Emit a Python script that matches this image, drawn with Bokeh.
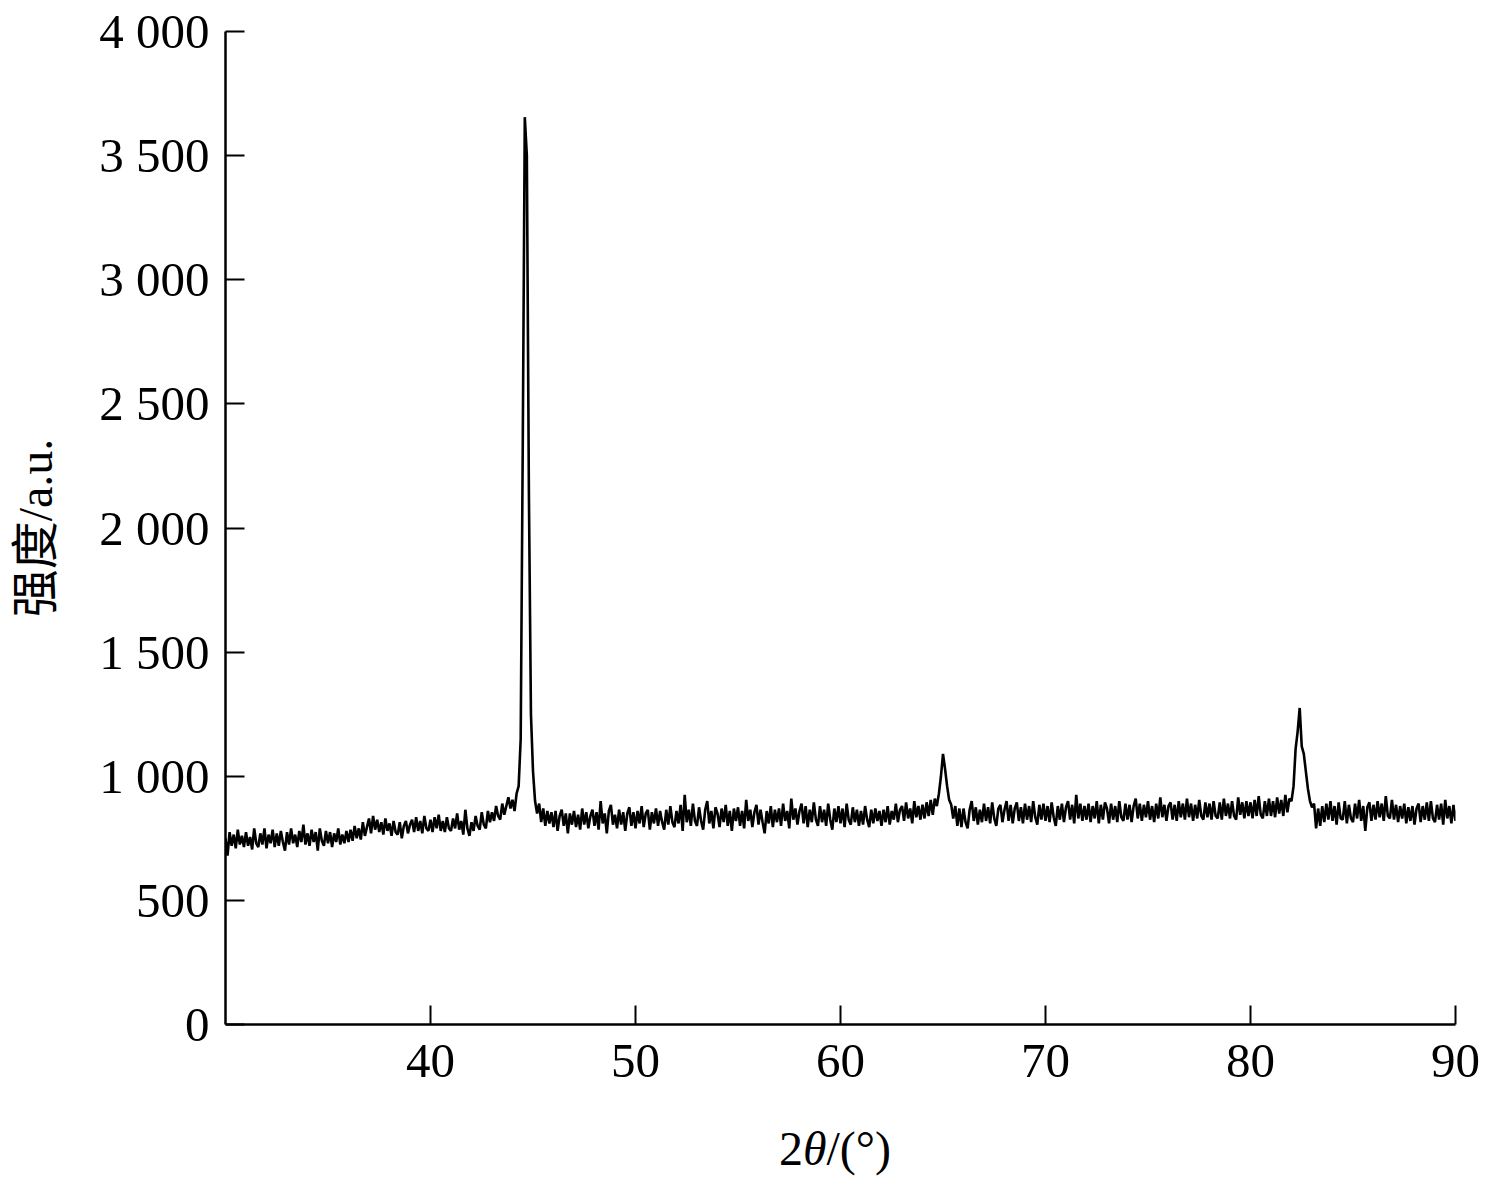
from bokeh.plotting import figure
from bokeh.models import Range1d, FixedTicker, Div
from bokeh.layouts import column
from bokeh.embed import file_html
from bokeh.resources import INLINE

# --- data, one row per degree, 0.1 deg steps ---
two_theta_start = 30.0
two_theta_step = 0.1
intensity_rows = [
    [750, 680, 775, 720, 765, 710, 785, 725, 760, 715],   # 30
    [775, 720, 755, 705, 790, 730, 715, 770, 725, 790],   # 31
    [710, 765, 730, 785, 715, 770, 720, 780, 735, 700],   # 32
    [775, 725, 790, 730, 765, 715, 780, 735, 805, 725],   # 33
    [770, 720, 785, 735, 775, 700, 790, 740, 720, 780],   # 34
    [730, 775, 715, 770, 735, 790, 725, 765, 730, 780],   # 35
    [735, 785, 740, 800, 750, 790, 745, 815, 760, 795],   # 36
    [830, 770, 840, 785, 825, 775, 815, 765, 830, 780],   # 37
    [810, 760, 820, 775, 765, 815, 750, 800, 820, 770],   # 38
    [805, 825, 775, 835, 780, 820, 770, 840, 790, 780],   # 39
    [825, 775, 835, 790, 845, 780, 820, 775, 835, 790],   # 40
    [780, 830, 790, 850, 785, 820, 765, 865, 790, 760],   # 41
    [815, 780, 840, 800, 785, 855, 805, 790, 860, 815],   # 42
    [855, 820, 880, 840, 825, 890, 845, 880, 915, 870],   # 43
    [905, 860, 930, 960, 1150, 2330, 3655, 3500, 2140, 1250],  # 44
    [1020, 900, 850, 890, 815, 870, 800, 860, 810, 855],  # 45
    [795, 860, 780, 840, 865, 800, 850, 770, 850, 805],   # 46
    [860, 795, 845, 785, 870, 805, 855, 790, 840, 865],   # 47
    [800, 855, 785, 900, 810, 850, 770, 860, 885, 805],   # 48
    [845, 790, 865, 805, 855, 780, 850, 875, 800, 855],   # 49
    [790, 860, 810, 880, 795, 850, 865, 785, 855, 810],   # 50
    [870, 800, 860, 815, 785, 865, 805, 880, 815, 795],   # 51
    [860, 810, 885, 780, 925, 815, 865, 800, 890, 820],   # 52
    [800, 875, 820, 785, 865, 900, 810, 860, 790, 875],   # 53
    [850, 795, 870, 815, 885, 800, 860, 780, 870, 820],   # 54
    [875, 800, 860, 790, 905, 820, 865, 795, 855, 885],   # 55
    [805, 865, 815, 770, 860, 810, 880, 795, 865, 815],   # 56
    [870, 800, 890, 820, 860, 790, 910, 825, 870, 805],   # 57
    [860, 890, 810, 880, 795, 865, 815, 895, 825, 800],   # 58
    [880, 815, 865, 800, 890, 825, 785, 870, 815, 880],   # 59
    [810, 870, 795, 890, 825, 805, 875, 815, 865, 800],   # 60
    [860, 805, 880, 825, 795, 865, 810, 870, 820, 860],   # 61
    [800, 865, 815, 880, 805, 860, 825, 890, 815, 865],   # 62
    [880, 820, 895, 830, 870, 810, 900, 835, 880, 825],   # 63
    [885, 830, 895, 840, 905, 845, 910, 880, 930, 1000],  # 64
    [1090, 1030, 960, 905, 885, 830, 880, 800, 870, 795], # 65
    [870, 815, 790, 865, 900, 820, 875, 805, 865, 815],   # 66
    [890, 820, 875, 810, 895, 830, 800, 870, 885, 815],   # 67
    [865, 900, 820, 885, 810, 870, 895, 820, 875, 810],   # 68
    [890, 825, 880, 815, 900, 835, 805, 885, 825, 890],   # 69
    [820, 880, 815, 895, 835, 800, 880, 825, 890, 815],   # 70
    [875, 900, 825, 885, 810, 925, 830, 890, 820, 880],   # 71
    [825, 890, 815, 880, 830, 900, 810, 885, 825, 895],   # 72
    [870, 810, 890, 825, 880, 815, 900, 835, 820, 890],   # 73
    [825, 885, 815, 880, 910, 830, 890, 820, 885, 835],   # 74
    [900, 825, 880, 815, 890, 830, 915, 835, 885, 820],   # 75
    [880, 895, 825, 885, 820, 900, 835, 890, 825, 910],   # 76
    [835, 890, 820, 885, 830, 905, 840, 825, 895, 835],   # 77
    [890, 825, 900, 840, 830, 895, 825, 910, 840, 890],   # 78
    [830, 900, 840, 825, 915, 845, 895, 830, 900, 840],   # 79
    [895, 830, 905, 840, 920, 845, 830, 900, 840, 910],   # 80
    [840, 900, 835, 915, 850, 905, 840, 925, 855, 910],   # 81
    [900, 960, 1110, 1180, 1275, 1120, 1090, 1020, 950, 900],  # 82
    [875, 890, 790, 870, 800, 880, 815, 890, 825, 900],   # 83
    [820, 880, 805, 895, 830, 825, 900, 810, 885, 830],   # 84
    [815, 890, 830, 905, 820, 880, 780, 875, 895, 820],   # 85
    [885, 825, 900, 835, 890, 820, 920, 840, 830, 905],   # 86
    [825, 885, 815, 880, 830, 890, 810, 875, 820, 880],   # 87
    [805, 870, 890, 815, 880, 825, 895, 820, 900, 830],   # 88
    [815, 885, 825, 890, 805, 905, 830, 880, 810, 885],   # 89
    [820, 875, 760],                                      # 90
]

x_ticks = [40, 50, 60, 70, 80, 90]
y_ticks = [0, 500, 1000, 1500, 2000, 2500, 3000, 3500, 4000]
y_tick_labels = ["0", "500", "1 000", "1 500", "2 000", "2 500", "3 000", "3 500", "4 000"]

intensity = [v for row in intensity_rows for v in row]
two_theta = [round(two_theta_start + i * two_theta_step, 2) for i in range(len(intensity))]

SERIF = "Liberation Serif"
MIXED = "'Liberation Serif', 'Noto Sans CJK SC'"

p = figure(width=1484, height=1110, output_backend="svg", toolbar_location=None,
           x_range=Range1d(30, 90), y_range=Range1d(0, 4000),
           min_border_left=225, min_border_right=29, min_border_top=31, min_border_bottom=86)
p.outline_line_color = None
p.grid.visible = False
p.background_fill_color = "white"

p.line(two_theta, intensity, line_color="black", line_width=2.6)

for ax in (p.xaxis[0], p.yaxis[0]):
    ax.axis_line_width = 2.5
    ax.axis_line_color = "black"
    ax.major_tick_line_width = 2
    ax.major_tick_line_color = "black"
    ax.major_tick_in = 19
    ax.major_tick_out = 0
    ax.minor_tick_line_color = None
    ax.major_label_text_font = SERIF
    ax.major_label_text_font_size = "49px"
    ax.major_label_text_color = "black"

p.xaxis.ticker = FixedTicker(ticks=x_ticks)
p.xaxis.major_label_standoff = 20
p.yaxis.ticker = FixedTicker(ticks=y_ticks)
p.yaxis.major_label_overrides = {t: s for t, s in zip(y_ticks, y_tick_labels)}
p.yaxis.major_label_standoff = 16

p.yaxis.axis_label = "强度/a.u."
p.yaxis.axis_label_text_font = MIXED
p.yaxis.axis_label_text_font_style = "normal"
p.yaxis.axis_label_text_font_size = "48px"
p.yaxis.axis_label_text_color = "black"
p.yaxis.axis_label_standoff = 34

# x-axis title 2θ/(°) with italic θ
xlabel = Div(text="2<i>θ</i>/(°)", width=1220, height=62, margin=(0, 0, 0, 225),
             styles={"font-family": "'Liberation Serif'", "font-size": "48px",
                     "color": "black", "text-align": "center", "line-height": "50px",
                     "padding-top": "14px", "box-sizing": "border-box"})

layout = column(p, xlabel, spacing=0)
open("out.html", "w").write(file_html(layout, INLINE))
